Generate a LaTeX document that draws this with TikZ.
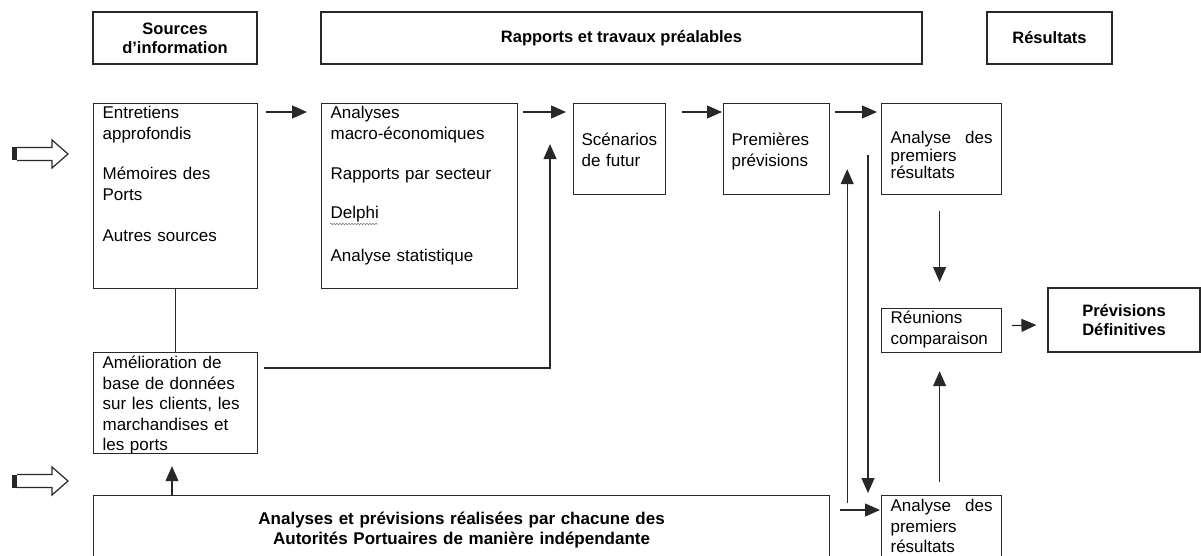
\documentclass[tikz,border=0pt]{standalone}
\usepackage{fontspec}
\setmainfont{Liberation Sans}
\usepackage{xcolor}
\usetikzlibrary{arrows.meta,calc,decorations.pathmorphing}
\definecolor{boxline}{RGB}{40,40,40}
\newcommand{\bodyfont}{\fontsize{17}{20.5}\selectfont}
\newcommand{\headfont}{\fontsize{16.5}{19}\selectfont\bfseries}
\newcommand{\inarrow}[1]{%
  \fill[boxline] ($(#1)+(0,-6.5)$) rectangle ($(#1)+(5,6.5)$);
  \draw[link] ($(#1)+(5,-6.5)$) -- ($(#1)+(40,-6.5)$) -- ($(#1)+(40,-14)$) -- ($(#1)+(56,0)$)
    -- ($(#1)+(40,14)$) -- ($(#1)+(40,6.5)$) -- ($(#1)+(5,6.5)$);}
\hyphenpenalty=10000
\exhyphenpenalty=10000

\begin{document}
\begin{tikzpicture}[x=1pt, y=-1pt,
        txtbox/.style={draw=boxline, line width=1.2pt, rectangle, anchor=north west, inner xsep=9pt, inner ysep=0pt, align=left, font=\bodyfont},
        head/.style={draw=boxline, line width=1.2pt, rectangle, align=center, inner sep=0pt, minimum height=52pt, font=\headfont},
        arr/.style={-{Triangle[length=15pt,width=13pt]}, line width=1.2pt, boxline},
        link/.style={line width=1.2pt, boxline}
    ]
        \useasboundingbox (0,0) rectangle (1201,556);
        \clip (0,0) rectangle (1201,556);

        % column headers
        \node[head, minimum width=164pt] (hsrc) at (175,38) {Sources\\d’information};
        \node[head, minimum width=601pt] (hrap) at (621.5,38) {Rapports et travaux préalables};
        \node[head, minimum width=125pt] (hres) at (1049.5,38) {Résultats};

        % boxes
        \node[txtbox, text width=146pt, text height=15pt, text depth=170pt] (entr) at (93,103)
            {Entretiens\\approfondis\\[20pt]Mémoires des\\Ports\\[20.5pt]Autres sources};
        \node[txtbox, text width=178pt, text height=15pt, text depth=170pt] (anal) at (321,103)
            {Analyses\\macro-économiques\\[19.5pt]Rapports par secteur\\[18.5pt]Delphi\\[22.5pt]Analyse statistique};
        \node[txtbox, inner xsep=8pt, text width=76pt, text height=42pt, text depth=49pt] (scen) at (573,103)
            {Scénarios\\de futur};
        \node[txtbox, inner xsep=8pt, text width=90pt, text height=42pt, text depth=49pt] (prem) at (723,103)
            {Premières\\prévisions};
        \node[txtbox, text width=102pt, text height=40pt, text depth=51pt, font=\fontsize{17}{17.5}\selectfont] (ana1) at (881,103)
            {Analyse \hfill des\\premiers\\résultats};
        \node[txtbox, text width=146pt, text height=16pt, text depth=85pt] (amel) at (93,352)
            {Amélioration de\\base de données\\sur les clients, les\\marchandises et\\les ports};
        \node[txtbox, text width=102pt, text height=15pt, text depth=29pt] (reun) at (881,308)
            {Réunions\\comparaison};
        \node[head, minimum width=152pt, minimum height=64pt] (prev) at (1124,320) {Prévisions\\Définitives};
        \node[txtbox, text width=718pt, text height=29pt, text depth=56pt, align=center, font=\fontsize{17}{20}\selectfont\bfseries] (big) at (93,495)
            {Analyses et prévisions réalisées par chacune des\\Autorités Portuaires de manière indépendante};
        \node[txtbox, text width=102pt, text height=16pt, text depth=69pt] (ana2) at (881,495)
            {Analyse \hfill des\\premiers\\résultats};

        % spelling mark under Delphi
        \draw[gray, line width=0.6pt, decorate, decoration={snake, amplitude=0.8pt, segment length=3pt}]
            ($(anal.north west)+(9,121)$) -- ($(anal.north west)+(57,121)$);

        % input arrows
        \coordinate (srcA) at (12,154);
        \coordinate (srcB) at (12,481);
        \inarrow{srcA}
        \inarrow{srcB}

        % connectors
        \draw[arr] ($(entr.north east)+(8,9)$) -- ($(anal.north west)+(-14,9)$);
        \draw[arr] ($(anal.north east)+(5,9)$) -- ($(scen.north west)+(-7,9)$);
        \draw[arr] ($(scen.north east)+(16,9)$) -- ($(prem.north west)+(-1,9)$);
        \draw[arr] ($(prem.north east)+(5,9)$) -- ($(ana1.north west)+(-4,9)$);
        \draw[link] (entr.south) -- (amel.north);
        \draw[arr] ($(amel.north east)+(6,16)$) -| ($(scen.west)+(-23,-5)$);
        \draw[arr] ($(big.north west)+(79,0)$) -- ($(amel.south west)+(79,12)$);
        \draw[arr] ($(ana1.north west)+(-13,52)$) -- ($(ana2.north west)+(-13,-2)$);
        \draw[arr] ($(big.north east)+(10,15)$) -- ($(ana2.north west)+(-1,15)$);
        \draw[arr] ($(big.north east)+(17,8)$) -- ($(prem.south east)+(17,-26)$);
        \draw[arr] ($(ana1.south)+(-2,16)$) -- ($(reun.north)+(-2,-26)$);
        \draw[arr] ($(ana2.north)+(-2,-13)$) -- ($(reun.south)+(-2,18)$);
        \draw[arr] ($(reun.east)+(10,-5)$) -- ($(prev.west)+(-11,5)$);
    \end{tikzpicture}
\end{document}
